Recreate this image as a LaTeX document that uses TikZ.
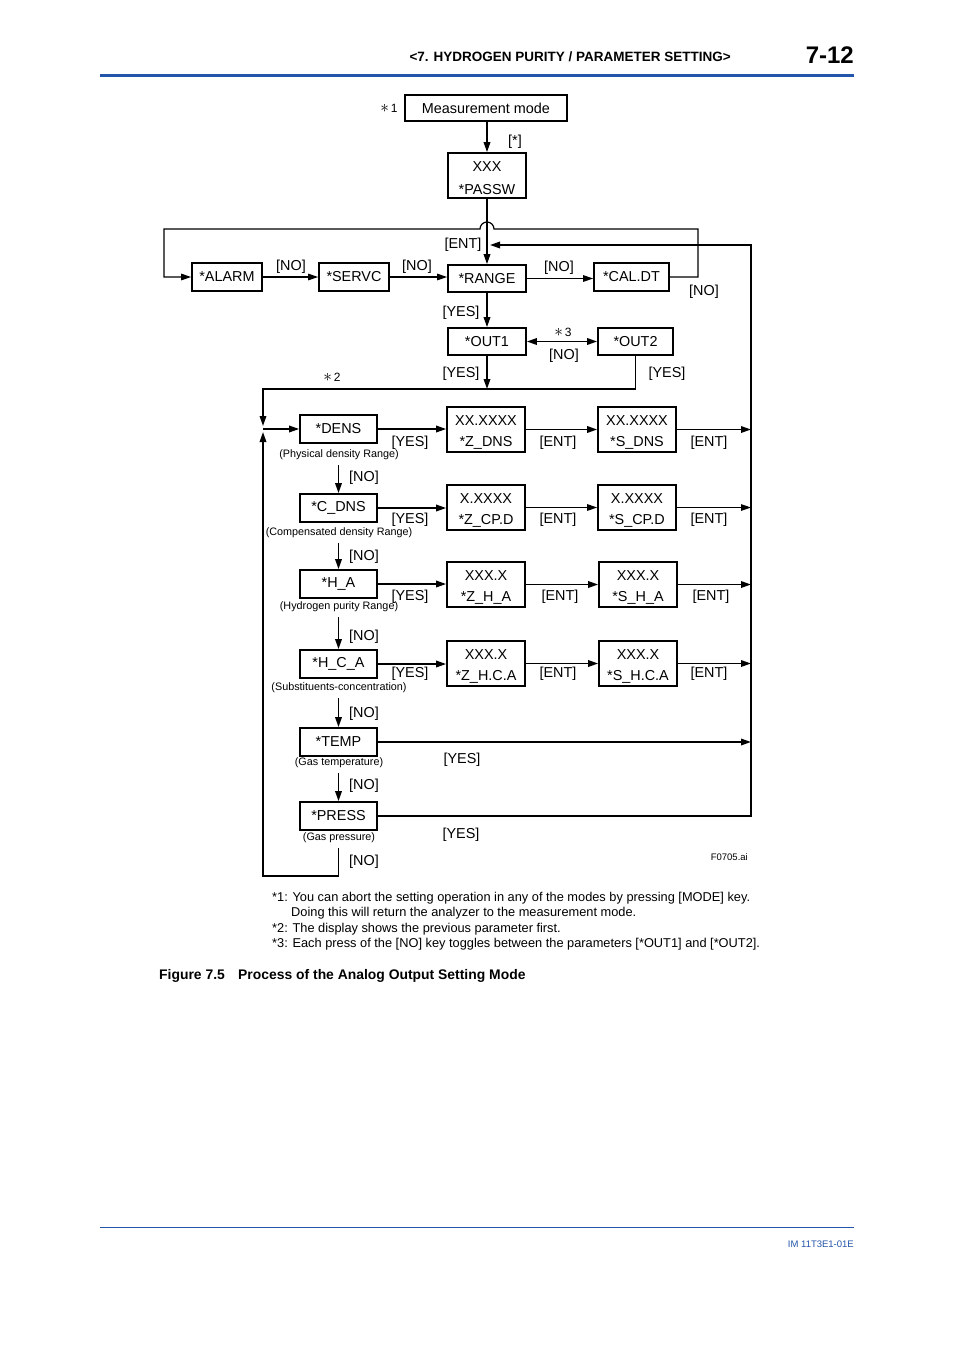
\documentclass[tikz,border=0pt]{standalone}
\usepackage{fontspec}
\setmainfont{Liberation Sans}
\usetikzlibrary{arrows.meta}
\definecolor{hdrblue}{RGB}{35,85,170}
\newcommand{\tstrut}{\rule{0pt}{15.5pt}}
\newcommand{\bigast}{{\fontsize{19}{19}\selectfont$\ast$}}
\tikzset{
 box/.style={draw, line width=1.7pt, inner sep=0pt, align=center, font=\fontsize{14.4}{21}\selectfont},
 lbl/.style={inner sep=0pt, yshift=-1.5pt, font=\fontsize{14.4}{16}\selectfont},
 capt/.style={inner sep=0pt, font=\fontsize{10.8}{12}\selectfont},
 starlbl/.style={inner sep=0pt, font=\fontsize{12}{13}\selectfont},
 ln/.style={line width=1.7pt},
 thinln/.style={line width=1.2pt},
 tip/.style={-{Triangle[length=10pt,width=6.5pt]}},
 arr/.style={ln, tip},
 dbl/.style={ln, {Triangle[length=10pt,width=6.5pt]}-{Triangle[length=10pt,width=6.5pt]}},
 sbox/.style={box, minimum width=77, minimum height=28},
 vbox/.style={box, minimum width=78, minimum height=45},
 note/.style={inner sep=0pt, anchor=base west, font=\fontsize{12.8}{14}\selectfont},
}
\begin{document}
\begin{tikzpicture}[x=1pt,y=-1pt]
\useasboundingbox[fill=white] (0,0) rectangle (954,1350);
% header
\node[anchor=east, inner sep=0pt, font=\bfseries\fontsize{13.5}{15}\selectfont] (hdr) at (731,57) {<7. HYDROGEN PURITY / PARAMETER SETTING>};
\node[anchor=east, inner sep=0pt, font=\bfseries\fontsize{24}{26}\selectfont] (pg) at (854,55) {7-12};
\draw[hdrblue, line width=3pt] (100,75) -- (854,75);
% top nodes
\node[box, minimum width=162, minimum height=26] (meas) at (486,108) {Measurement mode};
\node[starlbl] (s1) at (389,108) {\bigast\,1};
\node[box, minimum width=78, minimum height=45] (pass) at (487,175.5) {\tstrut XXX\\[2pt]*PASSW};
\node[lbl] (lstar) at (515,140) {[*]};
\node[box, minimum width=70, minimum height=28] (alarm) at (227,277) {*ALARM};
\node[box, minimum width=70, minimum height=28] (servc) at (354,277) {*SERVC};
\node[box, minimum width=78, minimum height=27] (range) at (487,278.5) {*RANGE};
\node[box, minimum width=75, minimum height=28] (caldt) at (631.5,277) {*CAL.DT};
\node[box, minimum width=78, minimum height=27] (out1) at (487,341.5) {*OUT1};
\node[box, minimum width=75, minimum height=27] (out2) at (635.5,341.5) {*OUT2};
% labels top
\node[lbl] at (291,265) {[NO]};
\node[lbl] at (417,265) {[NO]};
\node[lbl] at (559,266) {[NO]};
\node[lbl] at (704,290) {[NO]};
\node[lbl] at (463,243) {[ENT]};
\node[lbl] at (461,311) {[YES]};
\node[starlbl] at (563,332) {\bigast\,3};
\node[lbl] at (564,354) {[NO]};
\node[lbl] at (461,372) {[YES]};
\node[lbl] at (667,372) {[YES]};
\node[starlbl] at (332,377) {\bigast\,2};
% parameter column
\node[sbox] (dens) at (338.5,429) {*DENS};
\node[capt] (cdens) at (339,455) {(Physical density Range)};
\node[sbox] (cdns) at (338.5,508) {*C\_DNS};
\node[capt] (ccdns) at (339,533) {(Compensated density Range)};
\node[sbox] (ha) at (338.5,584) {*H\_A};
\node[capt] (cha) at (339,607) {(Hydrogen purity Range)};
\node[sbox] (hca) at (338.5,664) {*H\_C\_A};
\node[capt] (chca) at (339,688) {(Substituents-concentration)};
\node[sbox] (temp) at (338.5,742) {*TEMP};
\node[capt] (ctemp) at (339,763) {(Gas temperature)};
\node[sbox] (press) at (338.5,816) {*PRESS};
\node[capt] (cpress) at (339,838) {(Gas pressure)};
% value boxes
\node[vbox] (zdns) at (486,429.5) {\tstrut XX.XXXX\\*Z\_DNS};
\node[vbox] (sdns) at (637,429.5) {\tstrut XX.XXXX\\*S\_DNS};
\node[vbox] (zcpd) at (486,507.5) {\tstrut X.XXXX\\*Z\_CP.D};
\node[vbox] (scpd) at (637,507.5) {\tstrut X.XXXX\\*S\_CP.D};
\node[vbox] (zha) at (486,584.5) {\tstrut XXX.X\\*Z\_H\_A};
\node[vbox] (sha) at (638,584.5) {\tstrut XXX.X\\*S\_H\_A};
\node[vbox] (zhca) at (486,663.5) {\tstrut XXX.X\\*Z\_H.C.A};
\node[vbox] (shca) at (638,663.5) {\tstrut XXX.X\\*S\_H.C.A};
% row labels
\node[lbl] at (410,441) {[YES]};
\node[lbl] at (558,441) {[ENT]};
\node[lbl] at (709,441) {[ENT]};
\node[lbl] at (410,518) {[YES]};
\node[lbl] at (558,518) {[ENT]};
\node[lbl] at (709,518) {[ENT]};
\node[lbl] at (410,595) {[YES]};
\node[lbl] at (560,595) {[ENT]};
\node[lbl] at (711,595) {[ENT]};
\node[lbl] at (410,672) {[YES]};
\node[lbl] at (558,672) {[ENT]};
\node[lbl] at (709,672) {[ENT]};
\node[lbl] at (462,758) {[YES]};
\node[lbl] at (461,833) {[YES]};
\node[lbl] at (364,476) {[NO]};
\node[lbl] at (364,555) {[NO]};
\node[lbl] at (364,635) {[NO]};
\node[lbl] at (364,712) {[NO]};
\node[lbl] at (364,784) {[NO]};
\node[lbl] at (364,860) {[NO]};
\node[inner sep=0pt, anchor=east, font=\fontsize{9.5}{10}\selectfont] (fid) at (748,857) {F0705.ai};
% coordinates
\coordinate (rt) at (751,245);
\coordinate (rb) at (751,816);
\coordinate (ent) at (490,245);
\coordinate (lpr) at (698,229);
\coordinate (lpl) at (164,229);
\coordinate (hopR) at (494,229);
\coordinate (lt) at (263,389);
\coordinate (ja) at (263,426);
\coordinate (lj) at (263,429);
\coordinate (jb) at (263,432);
\coordinate (lb) at (263,876);
% connectors top
\draw[arr] (pass.north |- meas.south) -- (pass.north);
\draw[arr] (pass) -- (range);
\draw[thinln, tip] (caldt.east) -| (lpr) -- (hopR) arc[start angle=0, end angle=-180, radius=7] -- (lpl) |- (alarm.west);
\draw[thinln, tip] (alarm) -- (servc);
\draw[thinln, tip] (servc.east) -- (servc.east -| range.west);
\draw[thinln, tip] (range.east) -- (range.east -| caldt.west);
\draw[arr] (range) -- (out1);
\draw[dbl] (out1) -- (out2);
\draw[arr] (out1.south) -- (out1.south |- lt);
\draw[arr] (out2.south) |- (lt) -- (ja);
\draw[arr] (lj) -- (dens.west);
\draw[arr] (press.east) -- (rb) -- (rt) -- (ent);
% rows
\draw[arr] (dens.east) -- (dens.east -| zdns.west);
\draw[arr] (zdns.east) -- (zdns.east -| sdns.west);
\draw[arr] (sdns.east) -- (sdns.east -| rt);
\draw[arr] (cdns.east) -- (cdns.east -| zcpd.west);
\draw[thinln, tip] (zcpd.east) -- (zcpd.east -| scpd.west);
\draw[thinln, tip] (scpd.east) -- (scpd.east -| rt);
\draw[arr] (ha.east) -- (ha.east -| zha.west);
\draw[arr] (zha.east) -- (zha.east -| sha.west);
\draw[arr] (sha.east) -- (sha.east -| rt);
\draw[arr] (hca.east) -- (hca.east -| zhca.west);
\draw[arr] (zhca.east) -- (zhca.east -| shca.west);
\draw[arr] (shca.east) -- (shca.east -| rt);
\draw[arr] (temp.east) -- (temp.east -| rt);
% vertical NO arrows
\draw[arr, shorten <=5pt] (dens.center |- cdens.south) -- (cdns.north);
\draw[arr, shorten <=5pt] (cdns.center |- ccdns.south) -- (ha.north);
\draw[arr, shorten <=5pt] (ha.center |- cha.south) -- (hca.north);
\draw[arr, shorten <=5pt] (hca.center |- chca.south) -- (temp.north);
\draw[arr, shorten <=5pt] (temp.center |- ctemp.south) -- (press.north);
\draw[arr, shorten <=5pt] (press.center |- cpress.south) -- (press.center |- lb) -- (lb) -- (jb);
% notes
\node[note] (n1) at (272,901) {*1: You can abort the setting operation in any of the modes by pressing [MODE] key.};
\node[note] (n1b) at (291,916) {Doing this will return the analyzer to the measurement mode.};
\node[note] (n2) at (272,932) {*2: The display shows the previous parameter first.};
\node[note] (n3) at (272,947) {*3: Each press of the [NO] key toggles between the parameters [*OUT1] and [*OUT2].};
\node[inner sep=0pt, anchor=base west, font=\bfseries\fontsize{13.9}{15}\selectfont] (fig) at (159,979) {Figure 7.5};
\node[inner sep=0pt, anchor=base west, font=\bfseries\fontsize{13.9}{15}\selectfont] (figt) at (238,979) {Process of the Analog Output Setting Mode};
% footer
\draw[hdrblue, line width=0.8pt] (100,1227) -- (854,1227);
\node[inner sep=0pt, anchor=east, text=hdrblue, font=\fontsize{9.5}{10}\selectfont] (im) at (854,1244) {IM 11T3E1-01E};
\end{tikzpicture}
\end{document}
